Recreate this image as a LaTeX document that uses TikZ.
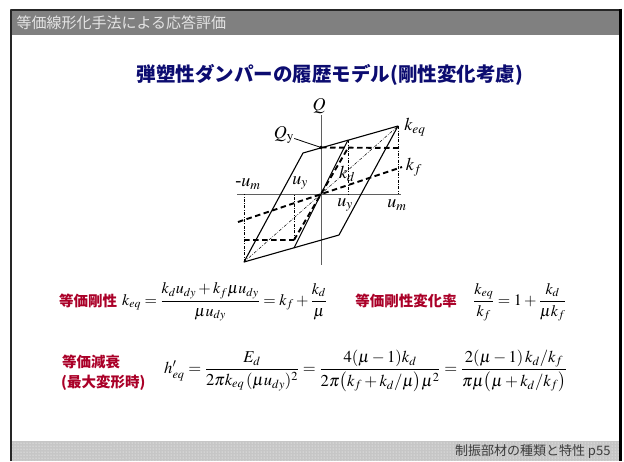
\documentclass[tikz,border=0pt]{standalone}
\usepackage{mathptmx}
\usepackage{fontspec}
\setmainfont{Liberation Serif}
\newfontfamily\jpfont{Noto Sans CJK JP}
\usetikzlibrary{patterns}
\definecolor{headgray}{RGB}{128,128,128}
\definecolor{headtext}{RGB}{228,228,228}
\definecolor{titlenavy}{RGB}{12,12,112}
\definecolor{eqred}{RGB}{170,0,40}
\definecolor{footgray}{RGB}{198,198,198}
\definecolor{foottext}{RGB}{60,60,60}
\definecolor{axisgray}{RGB}{95,95,95}

\begin{document}
\begin{tikzpicture}[x=1pt, y=-1pt, line join=round,
    lbl/.style={font=\fontsize{18}{20}\selectfont, inner sep=0pt},
    eqn/.style={font=\fontsize{16}{20}\selectfont, inner sep=0pt, anchor=west},
    jplbl/.style={font=\jpfont\bfseries\fontsize{14.5}{17}\selectfont, text=eqred, inner sep=0pt},
    loopline/.style={line width=1.1pt},
    dampline/.style={line width=1.9pt, dash pattern=on 5.5pt off 3.5pt},
    guide/.style={line width=.5pt, dash pattern=on 3pt off 1.5pt on .7pt off 1.5pt},
    axisline/.style={line width=.6pt, draw=axisgray}]
  \useasboundingbox (0,0) rectangle (624,461);

  \fill[headgray] (12,11) rectangle (619,35);
  \fill[footgray] (12,441) rectangle (619,461);
  \fill[pattern=dots, pattern color=white] (12,441) rectangle (619,461);
  \draw[line width=2pt, black!85] (11,461) -- (11,10) -- (619,10);
  \draw[line width=3pt] (620.5,8.5) -- (620.5,461);

  \node[anchor=west, text=headtext, font=\jpfont\fontsize{15}{17}\selectfont] (header) at (13,23) {等価線形化手法による応答評価};
  \node[text=titlenavy, font=\jpfont\bfseries\fontsize{19.5}{22}\selectfont] (title) at (330,75) {弾塑性ダンパーの履歴モデル(剛性変化考慮)};
  \node[anchor=east, text=foottext, font=\jpfont\fontsize{13}{15}\selectfont] (footer) at (614,452) {制振部材の種類と特性 p55};

  \coordinate (O)   at (321,194);
  \coordinate (A)   at (398,126);
  \coordinate (B)   at (303,153);
  \coordinate (C)   at (244,262);
  \coordinate (D)   at (339,235);
  \coordinate (Qy)  at (321,147.5);
  \coordinate (P)   at (348,140);
  \coordinate (Pn)  at (294,248);
  \coordinate (Y)   at (348,148);
  \coordinate (Yn)  at (294,240);
  \coordinate (E)   at (401,148);
  \coordinate (En)  at (244,240);
  \coordinate (F1)  at (238,222);
  \coordinate (F2)  at (402,167);
  \coordinate (Um)  at (398,194);
  \coordinate (Umn) at (244,194);
  \coordinate (Uy)  at (348,194);
  \coordinate (Uyn) at (294,194);
  \coordinate (H1)  at (237,194);
  \coordinate (H2)  at (401,194);
  \coordinate (V1)  at (321,115);
  \coordinate (V2)  at (321,265);

  \draw[axisline] (H1) -- (H2) (V1) -- (V2);
  \draw[guide] (A) -- (Um) (P) -- (Uy) (C) -- (Umn) (Yn) -- (Uyn);
  \draw[guide] (C) -- (A);
  \draw[loopline] (C) -- (B) -- (A) -- (D) -- cycle;
  \draw[loopline] (Pn) -- (P);
  \draw[dampline] (Yn) -- (Y);
  \draw[dampline] (Qy) -- (E) (En) -- (Yn);
  \draw[dampline] (F1) -- (F2);

  \node[lbl] (Qlab)   at (319,106) {$Q$};
  \node[lbl] (Qylab)  at (284,135) {$Q_{\mathrm{y}}$};
  \node[lbl] (keqlab) at (415,127) {$k_{eq}$};
  \node[lbl] (kflab)  at (414,167) {$k_f$};
  \node[lbl] (kdlab)  at (347,174) {$k_d$};
  \node[lbl] (uylab)  at (300,183) {$u_y$};
  \node[lbl] (umnlab) at (248,184) {-$u_m$};
  \node[lbl] (uyrlab) at (345,205) {$u_y$};
  \node[lbl] (umlab)  at (397,205) {$u_m$};
  \draw[line width=.8pt] (Qylab) -- (Qy);
  \fill (Qy) circle (1.8);

  \node[jplbl] (stifflab) at (88,301) {等価剛性};
  \node[eqn] (stiffeq) at (122,302) {$\displaystyle k_{eq}=\frac{k_du_{dy}+k_f\mu u_{dy}}{\mu u_{dy}}=k_f+\frac{k_d}{\mu}$};
  \node[jplbl] (ratiolab) at (406,301) {等価剛性変化率};
  \node[eqn] (ratioeq) at (473,302) {$\displaystyle \frac{k_{eq}}{k_f}=1+\frac{k_d}{\mu k_f}$};
  \node[jplbl, anchor=west] (damplab) at (62,362) {等価減衰};
  \node[jplbl, anchor=west] (damplab2) at (61,383) {(最大変形時)};
  \node[eqn, font=\fontsize{16.6}{20}\selectfont] (dampeq) at (164,371) {$\displaystyle h'_{eq}=\frac{E_d}{2\pi k_{eq}\,(\mu u_{dy})^2}=\frac{4(\mu-1)k_d}{2\pi\bigl(k_f+k_d/\mu\bigr)\mu^2}=\frac{2(\mu-1)\,k_d/k_f}{\pi\mu\bigl(\mu+k_d/k_f\bigr)}$};
\end{tikzpicture}
\end{document}
